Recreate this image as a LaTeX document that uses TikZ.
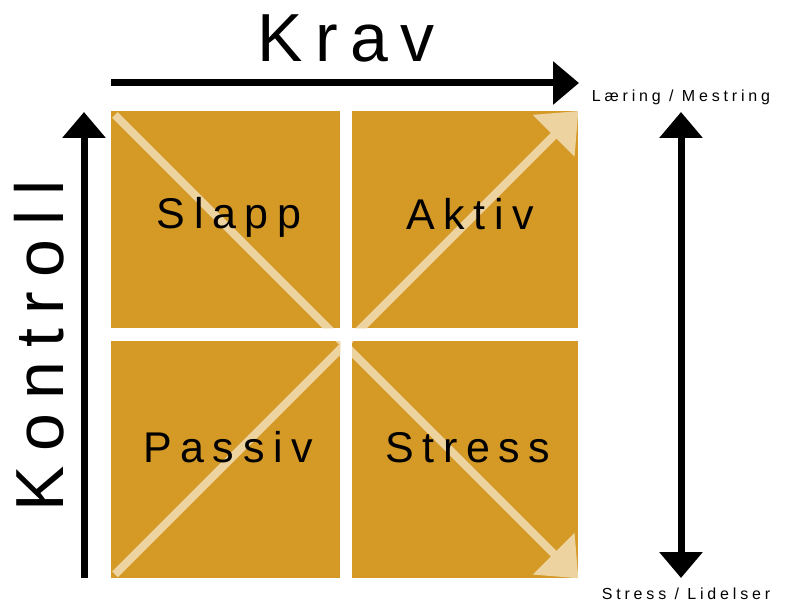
\documentclass[tikz,border=0pt]{standalone}
\usepackage{fontspec}
\setmainfont{Liberation Sans}
\newfontfamily\storfont[LetterSpace=18]{Liberation Sans}
\newfontfamily\hoyfont[LetterSpace=21]{Liberation Sans}
\newfontfamily\feltfont[LetterSpace=20]{Liberation Sans}
\newfontfamily\litenfont[LetterSpace=24]{Liberation Sans}
\usetikzlibrary{arrows.meta}

\definecolor{felt}{RGB}{213,153,38}
\definecolor{lys}{RGB}{237,211,160}

\begin{document}
\begin{tikzpicture}[x=1pt,y=-1pt,
  boks/.style={fill=felt, draw=none, inner sep=0pt, anchor=north west},
  diag/.style={draw=lys, line width=8pt, -{Triangle[length=35pt,width=57pt]}},
  pil/.style={line width=7pt, -{Triangle[length=26pt,width=42pt]}},
  etikett/.style={inner sep=0pt, anchor=base}]
  \useasboundingbox (0,0) rectangle (789,601);

  % feltene
  \node[boks, minimum width=229pt, minimum height=217pt] (slappfelt)  at (111,111) {};
  \node[boks, minimum width=226pt, minimum height=217pt] (aktivfelt)  at (352,111) {};
  \node[boks, minimum width=229pt, minimum height=237pt] (passivfelt) at (111,341) {};
  \node[boks, minimum width=226pt, minimum height=237pt] (stressfelt) at (352,341) {};

  % diagonalene, bare inne i feltene
  \begin{scope}
    \clip (slappfelt.north west) rectangle (slappfelt.south east)
          (aktivfelt.north west) rectangle (aktivfelt.south east)
          (passivfelt.north west) rectangle (passivfelt.south east)
          (stressfelt.north west) rectangle (stressfelt.south east);
    \draw[diag] ([shift={(4,4)}]slappfelt.north west) -- (stressfelt.south east);
    \draw[diag] ([shift={(4,-4)}]passivfelt.south west) -- (aktivfelt.north east);
  \end{scope}

  \node[etikett] (slapp)  at (229,229) {\fontsize{43}{43}\feltfont Slapp};
  \node[etikett] (aktiv)  at (470,230) {\fontsize{43}{43}\feltfont Aktiv};
  \node[etikett] (passiv) at (228,462) {\fontsize{43}{43}\feltfont Passiv};
  \node[etikett] (stress) at (468,462) {\fontsize{43}{43}\feltfont Stress};

  % aksene
  \coordinate (kravfra) at (111,83);
  \coordinate (kravtil) at (579,83);
  \coordinate (kontrollfra) at (84,578);
  \coordinate (kontrolltil) at (84,112);
  \coordinate (topp) at (681,112);
  \coordinate (bunn) at (681,578);
  \draw[pil] (kravfra) -- (kravtil);
  \draw[pil] (kontrollfra) -- (kontrolltil);
  \draw[pil, {Triangle[length=26pt,width=42pt]}-{Triangle[length=26pt,width=42pt]}] (topp) -- (bunn);

  \node[etikett] (krav) at (346,62) {\fontsize{68}{68}\storfont Krav};
  \node[etikett, rotate=90] (kontroll) at (63,346) {\fontsize{68}{68}\hoyfont Kontroll};
  \node[etikett] (laering) at (681,102) {\fontsize{16}{16}\litenfont Læring / Mestring};
  \node[etikett] (lidelser) at (686,599) {\fontsize{16}{16}\litenfont Stress / Lidelser};
\end{tikzpicture}
\end{document}
